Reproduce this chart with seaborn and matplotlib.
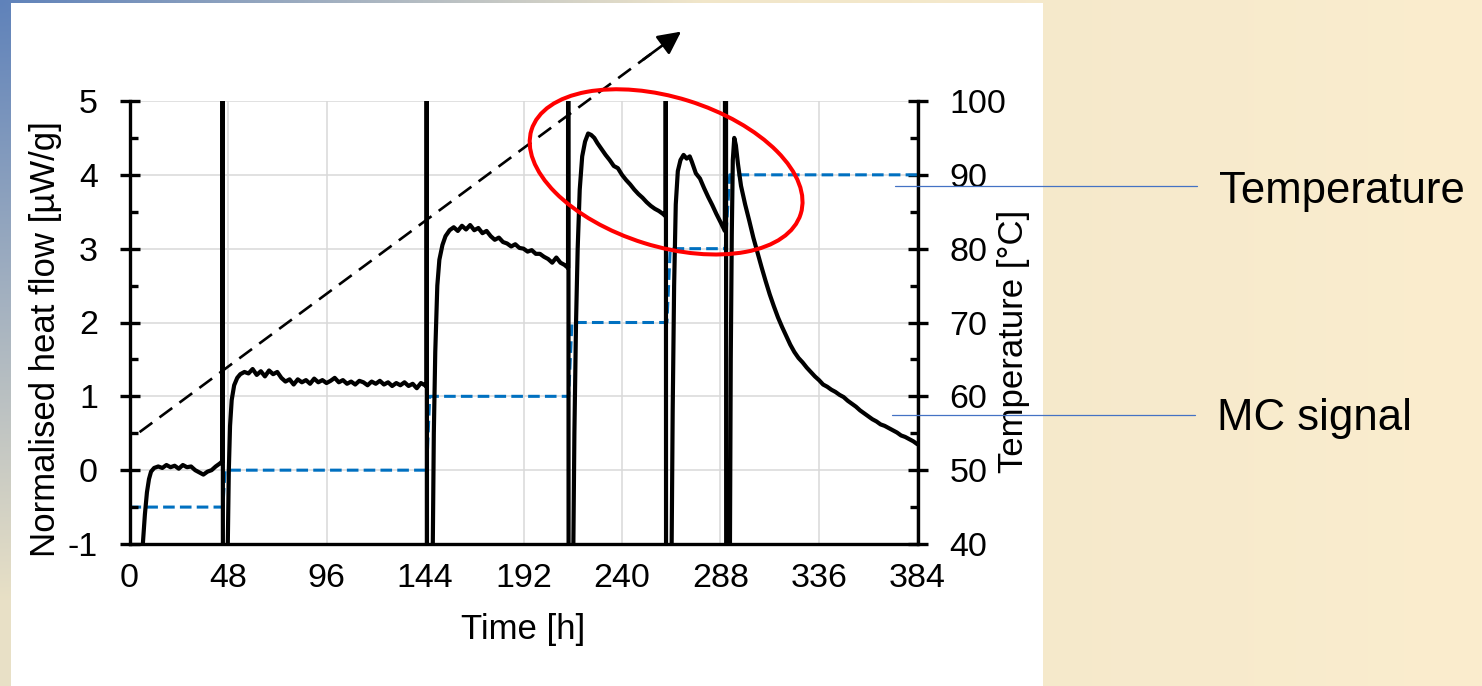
import numpy as np
import matplotlib
matplotlib.use("Agg")
import matplotlib.pyplot as plt
import seaborn as sns
from matplotlib.ticker import MultipleLocator
from matplotlib.patches import Ellipse
from matplotlib.lines import Line2D
from matplotlib.transforms import ScaledTranslation

# ---- data -------------------------------------------------------------
# isothermal microcalorimetry signal (normalised heat flow, µW/g) vs time (h)
heat_time = [
    0, 6.0, 6.5, 7.5, 8.5, 9.5, 10.5, 12, 14, 16, 18, 20, 22, 24, 26, 28, 30,
    32, 34, 36, 38, 40, 42, 44, 45.2,
    45.4, 45.6, 47.6, 47.9, 48.4, 49.0, 49.8, 51, 52.5, 54, 56, 58, 60, 62,
    64, 66, 68, 70, 72, 74, 76, 78, 80, 82, 84, 86, 88, 90, 92, 94, 96, 98,
    100, 102, 104, 106, 108, 110, 112, 114, 116, 118, 120, 122, 124, 126,
    128, 130, 132, 134, 136, 138, 140, 142, 144, 144.7,
    144.8, 145.1, 147.5, 147.8, 148.3, 149, 150, 151, 152.5, 154, 156, 158,
    160, 162, 164, 166, 168, 170, 172, 174, 176, 178, 180, 182, 184, 186,
    188, 190, 192, 194, 196, 198, 200, 202, 204, 206, 208, 210, 212, 213.7,
    213.8, 214.1, 216.0, 216.3, 216.8, 217.6, 218.4, 219.4, 220.6, 222,
    223.5, 225, 226.5, 228, 230, 232, 234, 236, 238, 240, 242, 244, 246, 248,
    250, 252, 254, 256, 258, 260, 261.2,
    261.3, 261.6, 263.9, 264.2, 264.7, 265.4, 266.2, 267.2, 268.5, 270,
    271.5, 273, 274, 276, 278, 280, 282, 284, 286, 288, 290.1,
    290.6, 290.9, 292.3, 292.6, 293.0, 293.5, 294.0, 294.7, 295.5, 296.5,
    298, 300, 302, 304, 306, 308, 310, 312, 314, 316, 318, 320, 322, 324,
    326, 328, 330, 332, 334, 336, 338, 340, 342, 344, 346, 348, 350, 352,
    354, 356, 358, 360, 362, 364, 366, 368, 370, 372, 374, 376, 378, 380,
    382, 384,
]
heat_flow = [
    -6, -1.3, -1.0, -0.6, -0.3, -0.12, -0.02, 0.03, 0.05, 0.03, 0.07, 0.04,
    0.06, 0.02, 0.07, 0.04, 0.05, 0.0, -0.03, -0.06, -0.02, 0.0, 0.05, 0.09,
    0.12,
    15, -15, -3, -1.0, 0.0, 0.6, 0.95, 1.15, 1.25, 1.30, 1.33, 1.31, 1.37,
    1.29, 1.34, 1.27, 1.35, 1.30, 1.33, 1.25, 1.20, 1.23, 1.16, 1.23, 1.19,
    1.22, 1.17, 1.24, 1.19, 1.22, 1.18, 1.21, 1.25, 1.19, 1.22, 1.17, 1.20,
    1.16, 1.21, 1.19, 1.15, 1.20, 1.17, 1.21, 1.16, 1.19, 1.14, 1.18, 1.15,
    1.19, 1.14, 1.17, 1.11, 1.18, 1.15, 1.13,
    15, -15, -3, -1.0, 0.5, 1.6, 2.5, 2.85, 3.05, 3.17, 3.25, 3.29, 3.24,
    3.31, 3.26, 3.32, 3.25, 3.28, 3.21, 3.24, 3.17, 3.12, 3.15, 3.09, 3.07,
    3.03, 3.06, 3.01, 3.00, 2.96, 2.98, 2.93, 2.93, 2.89, 2.86, 2.81, 2.88,
    2.81, 2.78, 2.74,
    15, -15, -3, -1.0, 0.5, 2.0, 3.0, 3.8, 4.25, 4.45, 4.56, 4.54, 4.50,
    4.43, 4.35, 4.27, 4.20, 4.12, 4.09, 4.00, 3.93, 3.87, 3.80, 3.74, 3.69,
    3.63, 3.58, 3.54, 3.51, 3.47, 3.44,
    15, -15, -3, -1.0, 0.8, 2.5, 3.6, 4.05, 4.20, 4.27, 4.22, 4.25, 4.18,
    4.02, 3.95, 3.82, 3.70, 3.59, 3.47, 3.36, 3.24,
    15, -15, -3, -1.0, 1.5, 3.2, 4.2, 4.50, 4.40, 4.15, 3.85, 3.60, 3.38,
    3.15, 2.95, 2.75, 2.56, 2.38, 2.22, 2.07, 1.94, 1.82, 1.70, 1.60, 1.52,
    1.46, 1.39, 1.33, 1.27, 1.22, 1.16, 1.13, 1.09, 1.06, 1.02, 0.99, 0.94,
    0.90, 0.86, 0.81, 0.77, 0.73, 0.69, 0.66, 0.62, 0.60, 0.57, 0.54, 0.51,
    0.47, 0.45, 0.42, 0.39, 0.35,
]

# stepwise isothermal temperature programme (°C)
temp_time = [0, 45.5, 46.6, 144.8, 146.3, 214.0, 215.6, 261.9, 263.5,
             290.3, 292.5, 384]
temp_value = [45, 45, 50, 50, 60, 60, 70, 70, 80, 80, 90, 90]

x_ticks = [0, 48, 96, 144, 192, 240, 288, 336, 384]
heat_ticks = [-1, 0, 1, 2, 3, 4, 5]
temp_ticks = [40, 50, 60, 70, 80, 90, 100]

# ---- style ------------------------------------------------------------
sns.set_theme(style="white")
plt.rcParams["font.family"] = ["Liberation Sans", "DejaVu Sans"]
plt.rcParams["axes.unicode_minus"] = False
for key in ["text.color", "axes.labelcolor", "xtick.color", "ytick.color",
            "axes.edgecolor"]:
    plt.rcParams[key] = "black"

W, H = 1482, 686
fig = plt.figure(figsize=(W / 100, H / 100), dpi=100)

# slide background: bluish corner fading into beige, white panel behind the chart
yy, xx = np.mgrid[0:H, 0:W].astype(float)
beige_l = np.array([232, 224, 198]) / 255
beige_r = np.array([251, 237, 206]) / 255
blue = np.array([95, 130, 186]) / 255
fx = (xx / (W - 1))[..., None]
base = beige_l * (1 - fx) + beige_r * fx
s = np.clip(1 - np.sqrt((xx / 700) ** 2 + (yy / 600) ** 2), 0, 1)[..., None]
img = base * (1 - s) + blue * s
img[3:, 11:1043] = 1.0
bg = fig.add_axes([0, 0, 1, 1], zorder=-10)
bg.imshow(img, aspect="auto", extent=(0, 1, 0, 1), interpolation="bilinear")
bg.axis("off")

# ---- axes -------------------------------------------------------------
ax = fig.add_axes([129.5 / W, 1 - 544 / H, 788 / W, 443 / H])
ax2 = ax.twinx()
ax.set_zorder(ax2.get_zorder() + 1)
ax.patch.set_visible(False)
ax2.patch.set_visible(False)

sns.lineplot(x=temp_time, y=temp_value, ax=ax2, color="#0070C0", lw=2.2,
             linestyle=(0, (3.8, 1.7)), estimator=None, sort=False)
sns.lineplot(x=heat_time, y=heat_flow, ax=ax, color="black", lw=3.0,
             estimator=None, sort=False)

ax.set_xlim(0, 384)
ax.set_ylim(-1, 5)
ax2.set_ylim(40, 100)
ax.set_xticks(x_ticks)
ax.xaxis.set_minor_locator(MultipleLocator(24))
ax.set_yticks(heat_ticks)
ax.yaxis.set_minor_locator(MultipleLocator(0.5))
ax2.set_yticks(temp_ticks)
ax2.yaxis.set_minor_locator(MultipleLocator(5))

# grid lives on the rear axes so it sits under both curves
ax2.xaxis.set_visible(True)
ax2.tick_params(axis="x", which="both", bottom=False, top=False,
                labelbottom=False, labeltop=False)
ax2.grid(True, which="major", axis="both", color="#D9D9D9", lw=1.1)
ax.grid(False)

for sp in ["top", "right"]:
    ax.spines[sp].set_visible(False)
for sp in ["top", "left", "bottom"]:
    ax2.spines[sp].set_visible(False)
for sp in [ax.spines["left"], ax.spines["bottom"], ax2.spines["right"]]:
    sp.set_linewidth(2.4)
    sp.set_color("black")

ax.tick_params(axis="x", which="major", direction="inout", length=14.4,
               width=2.4, labelsize=24.5, pad=6.5, color="black",
               labelcolor="black")
ax.tick_params(axis="x", which="minor", direction="in", length=5.5,
               width=2.4, color="black")
ax.tick_params(axis="y", which="major", direction="inout", length=14.4,
               width=2.4, labelsize=24.5, pad=15.5, left=True, right=False,
               color="black", labelcolor="black")
ax.tick_params(axis="y", which="minor", direction="in", length=5.5,
               width=2.4, left=True, right=False, color="black")
ax2.tick_params(axis="y", which="major", direction="inout", length=14.4,
                width=2.4, labelsize=24.5, pad=16, right=True, left=False,
                color="black", labelcolor="black")
ax2.tick_params(axis="y", which="minor", direction="in", length=5.5,
                width=2.4, right=True, left=False, color="black")

ax.set_xlabel("Time [h]", fontsize=25, color="black")
ax.xaxis.set_label_coords(0.5, -0.155)
ax.set_ylabel("Normalised heat flow [µW/g]", fontsize=25, color="black")
ax.yaxis.set_label_coords(-0.0857, 0.463)
ax2.set_ylabel("Temperature [°C]", fontsize=25, color="black")
ax2.yaxis.set_label_coords(1.101, 0.458)

# dashed trend arrow
arrow_start = (4.9, 0.515)
arrow_tip = (268.8, 5.94)
shaft_end = (arrow_start[0] + 0.955 * (arrow_tip[0] - arrow_start[0]),
             arrow_start[1] + 0.955 * (arrow_tip[1] - arrow_start[1]))
ax.plot([arrow_start[0], shaft_end[0]], [arrow_start[1], shaft_end[1]],
        color="black", lw=1.9, linestyle=(0, (6, 3.4)), clip_on=False,
        zorder=5)
head_from = (arrow_start[0] + 0.93 * (arrow_tip[0] - arrow_start[0]),
             arrow_start[1] + 0.93 * (arrow_tip[1] - arrow_start[1]))
ax.annotate("", xy=arrow_tip, xytext=head_from, annotation_clip=False,
            arrowprops=dict(arrowstyle="-|>,head_length=0.7,head_width=0.35",
                            color="black", lw=1.9, mutation_scale=20,
                            shrinkA=0, shrinkB=0))

# red ellipse highlighting the high-temperature peaks
ell_center = (261.5, 4.04)
ell = Ellipse((0, 0), width=2.82, height=1.49, angle=-17.35, fill=False,
              edgecolor="#FF0000", lw=2.9, clip_on=False, zorder=6,
              transform=fig.dpi_scale_trans
              + ScaledTranslation(ell_center[0], ell_center[1], ax.transData))
ax.add_patch(ell)

# callouts on the right
callout_color = "#4472C4"
fig.add_artist(Line2D([895 / W, 1197 / W], [1 - 186 / H] * 2,
                      color=callout_color, lw=0.9))
fig.add_artist(Line2D([892 / W, 1195 / W], [1 - 415 / H] * 2,
                      color=callout_color, lw=0.9))
fig.text(1219 / W, 1 - 203 / H, "Temperature", fontsize=31.5, ha="left",
         va="baseline", color="black")
fig.text(1217 / W, 1 - 430 / H, "MC signal", fontsize=31.5, ha="left",
         va="baseline", color="black")

fig.savefig("out.png", dpi=100)
